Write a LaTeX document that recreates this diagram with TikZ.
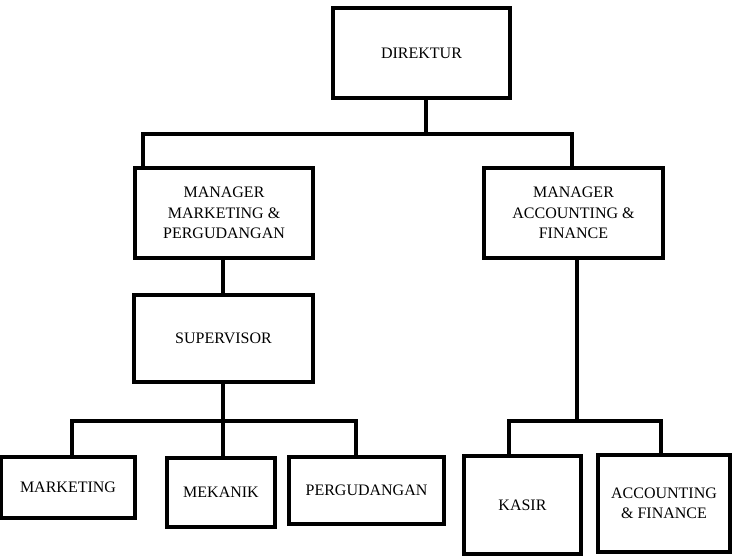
\documentclass[tikz,border=0pt]{standalone}
\usepackage{fontspec}
\setmainfont{Liberation Serif}
\usepackage{tikz}

\tikzset{
  unitbox/.style={draw, line width=3.2pt, align=center, inner sep=2pt,
    font=\fontsize{16}{20.5}\selectfont},
  link/.style={line width=3.2pt}
}

\begin{document}
\begin{tikzpicture}[x=1pt, y=-1pt]
\useasboundingbox (0, 0) rectangle (732, 556);
% boxes
\node[unitbox, minimum width=177pt, minimum height=90pt] (direktur) at (421.5, 53) {DIREKTUR};
\node[unitbox, minimum width=178pt, minimum height=90pt] (mmp) at (224, 213) {MANAGER\\MARKETING \&\\PERGUDANGAN};
\node[unitbox, minimum width=179pt, minimum height=90pt] (maf) at (573.5, 213) {MANAGER\\ACCOUNTING \&\\FINANCE};
\node[unitbox, minimum width=179pt, minimum height=87pt] (sup) at (223.5, 338.5) {SUPERVISOR};
\node[unitbox, minimum width=134pt, minimum height=61pt] (marketing) at (68, 487.5) {MARKETING};
\node[unitbox, minimum width=108pt, minimum height=69pt] (mekanik) at (221, 492.5) {MEKANIK};
\node[unitbox, minimum width=155pt, minimum height=67pt] (pergudangan) at (366.5, 490.5) {PERGUDANGAN};
\node[unitbox, minimum width=117pt, minimum height=98pt] (kasir) at (522.5, 505) {KASIR};
\node[unitbox, minimum width=132pt, minimum height=97pt] (accfin) at (664, 503.5) {ACCOUNTING\\\& FINANCE};
% bus lines
\coordinate (topbus) at (426, 134);
\coordinate (topleft) at (143, 134);
\coordinate (topright) at (572, 134);
\coordinate (supbus) at (223, 421);
\coordinate (supleft) at (72, 421);
\coordinate (supright) at (356, 421);
\coordinate (kasbus) at (577, 421);
\coordinate (kasleft) at (509, 421);
\coordinate (kasright) at (661, 421);
% connectors
\draw[link] (direktur.south -| topbus) -- (topbus);
\draw[link] (mmp.north -| topleft) -- (topleft) -- (topright) -- (maf.north -| topright);
\draw[link] (mmp.south -| supbus) -- (sup.north -| supbus);
\draw[link] (sup.south -| supbus) -- (mekanik.north -| supbus);
\draw[link] (marketing.north -| supleft) -- (supleft) -- (supright) -- (pergudangan.north -| supright);
\draw[link] (maf.south -| kasbus) -- (kasbus);
\draw[link] (kasir.north -| kasleft) -- (kasleft) -- (kasright) -- (accfin.north -| kasright);
\end{tikzpicture}
\end{document}
